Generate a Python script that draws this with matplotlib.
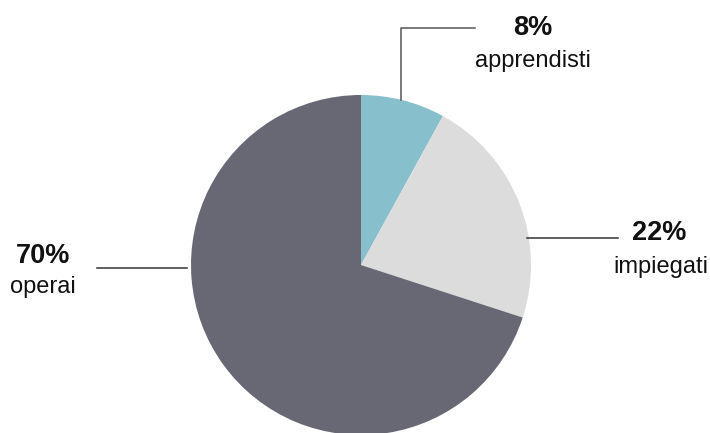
import matplotlib
matplotlib.use("Agg")
import matplotlib.pyplot as plt

categories = ["apprendisti", "impiegati", "operai"]
shares = [8, 22, 70]
colors = ["#88bfcc", "#dcdcdc", "#676874"]

W, H = 710, 433
fig = plt.figure(figsize=(W / 100, H / 100), dpi=100)
ax = fig.add_axes([0, 0, 1, 1])
ax.set_xlim(0, W)
ax.set_ylim(0, H)
ax.set_aspect("equal")
ax.axis("off")

cx, cy, r = 361, H - 265, 170
ax.pie(shares, colors=colors, startangle=90, counterclock=False,
       center=(cx, cy), radius=r, frame=True,
       wedgeprops=dict(linewidth=0))
ax.set_xlim(0, W)
ax.set_ylim(0, H)
ax.axis("off")

plt.rcParams["font.family"] = ["Liberation Sans", "DejaVu Sans"]

def y(v):
    return H - v

# leader lines
ax.plot([401, 401, 475], [y(100), y(28), y(28)], color="#555555", lw=1.1)
ax.plot([527, 618], [y(238), y(238)], color="#333333", lw=1.1)
ax.plot([97, 187], [y(268), y(268)], color="#333333", lw=1.1)

# labels: (percent x, percent baseline, name x, name baseline)
label_pos = [(533, 35, 533, 67), (659, 240, 661, 273), (43, 263, 43, 293)]
for name, val, (px, py, nx, ny) in zip(categories, shares, label_pos):
    ax.text(px, y(py), f"{val}%", ha="center", va="baseline",
            fontsize=19.5, fontweight="bold", color="#111111",
            family="Liberation Sans")
    ax.text(nx, y(ny), name, ha="center", va="baseline",
            fontsize=17, color="#111111", family="Liberation Sans")

fig.savefig("out.png", dpi=100)
